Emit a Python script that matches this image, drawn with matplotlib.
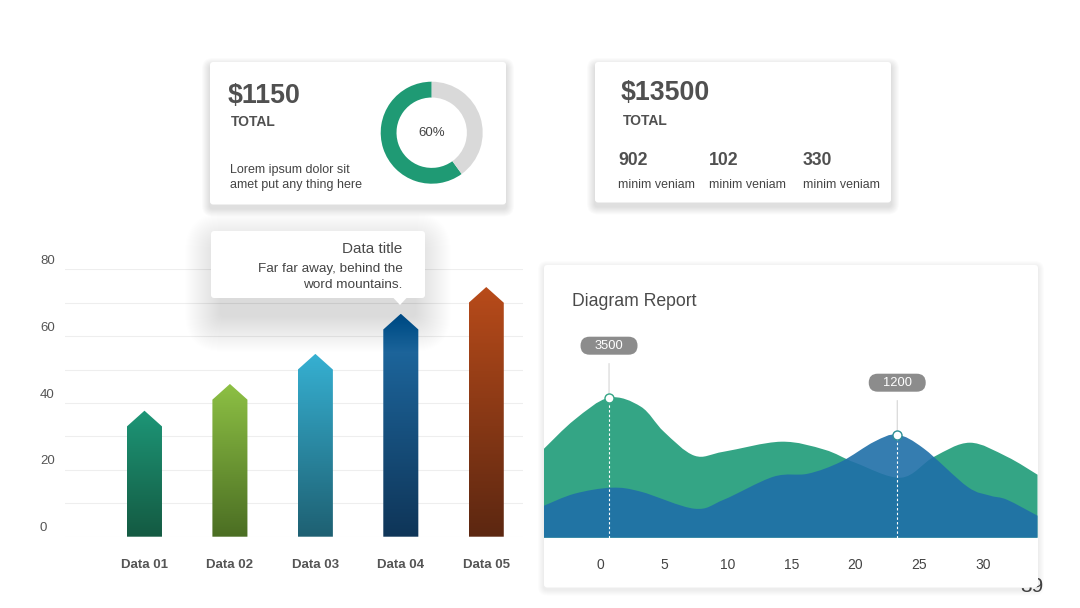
import numpy as np
import matplotlib
matplotlib.use('Agg')
import matplotlib.pyplot as plt
from matplotlib.patches import FancyBboxPatch, Polygon, PathPatch
from matplotlib.path import Path
from matplotlib.transforms import ScaledTranslation
from matplotlib.colors import to_rgb

plt.rcParams['font.family'] = ['Liberation Sans', 'DejaVu Sans']

# ---------------- data ----------------
bar_categories = ['Data 01', 'Data 02', 'Data 03', 'Data 04', 'Data 05']
bar_values = [33, 41, 50, 62, 70]
bar_top_colors = ['#1d9677', '#8dc044', '#36b0d2', '#1f6ea8', '#b84b1a']
bar_bottom_colors = ['#145a42', '#4b6e23', '#1e6072', '#0f3558', '#5c2711']
bar_yticks = [0, 20, 40, 60, 80]
bar_minor_yticks = [10, 30, 50, 70]

donut_values = [60, 40]
donut_colors = ['#1f9a74', '#d9d9d9']
donut_label = '60%'

card1_amount = '$1150'
card1_caption = 'TOTAL'
card1_text = ['Lorem ipsum dolor sit', 'amet put any thing here']
card2_amount = '$13500'
card2_caption = 'TOTAL'
card2_stats = ['902', '102', '330']
card2_stat_label = 'minim veniam'

tooltip_title = 'Data title'
tooltip_lines = ['Far far away, behind the', 'word mountains.']

area_title = 'Diagram Report'
green_x = [-4.4, -2.0, 0.7, 3.2, 5.0, 7.4, 9.7, 14.2, 17.6, 20.0, 23.6, 26.2, 29.0, 31.9, 34.3]
green_y = [89, 118, 140, 131, 106, 82, 86, 96, 88, 75, 60, 81, 95, 81, 63]
blue_x = [-4.4, -2.0, 0.9, 3.2, 7.4, 9.7, 13.6, 16.3, 18.9, 21.5, 23.3, 25.4, 28.8, 30.6, 31.9, 34.3]
blue_y = [32, 44, 50, 46, 29, 38, 61, 64, 76, 96, 103, 89, 51, 42, 38, 22]
area_xticks = [0, 5, 10, 15, 20, 25, 30]
callout_labels = ['3500', '1200']
callout_index = [2, 10]   # green point index, blue point index
green_color = '#34a585'
blue_color = '#1f6fa8'

page_number = '39'

# ---------------- figure ----------------
W, H = 1080, 608
fig = plt.figure(figsize=(W / 100, H / 100), dpi=100)
fig.patch.set_facecolor('white')


def fig_rect(x0, y0, x1, y1):
    """pixel box (y from top) -> figure fraction rect"""
    return [x0 / W, 1 - y1 / H, (x1 - x0) / W, (y1 - y0) / H]


bg = fig.add_axes([0, 0, 1, 1], zorder=0)
bg.set_xlim(0, W)
bg.set_ylim(H, 0)
bg.axis('off')


def card(ax, x0, y0, x1, y1, r=3, blur=8, dy=3, alpha=0.2, z=2, shrink=0):
    w, h = x1 - x0, y1 - y0
    for k in range(blur, 0, -1):
        ax.add_patch(FancyBboxPatch((x0 - k + shrink, y0 - k + dy), w + 2 * k - 2 * shrink, h + 2 * k,
                                    boxstyle=f'round,pad=0,rounding_size={r + k}',
                                    fc='black', ec='none', alpha=alpha / blur, zorder=z))
    ax.add_patch(FancyBboxPatch((x0, y0), w, h, boxstyle=f'round,pad=0,rounding_size={r}',
                                fc='white', ec='none', zorder=z + 0.1))


# page number (mostly hidden behind the card)
bg.text(1032, 592.5, page_number, ha='center', va='baseline', fontsize=15, color='#444444', zorder=1)

# cards
card(bg, 210, 62, 506, 204.5, blur=8, dy=4, alpha=0.12)
card(bg, 595, 62, 891, 202.5, blur=8, dy=4, alpha=0.12)
card(bg, 544, 265, 1038, 587.5, blur=6, dy=2, alpha=0.07)

tc = '#505050'
bg.text(228, 103, card1_amount, fontsize=19.3, fontweight='bold', color=tc, va='baseline', zorder=5)
bg.text(230.5, 126.5, card1_caption, fontsize=10, fontweight='bold', color=tc, va='baseline', zorder=5)
bg.text(230, 172.5, card1_text[0], fontsize=9, color='#444444', va='baseline', zorder=5)
bg.text(230, 188, card1_text[1], fontsize=9, color='#444444', va='baseline', zorder=5)

bg.text(621, 100, card2_amount, fontsize=19.3, fontweight='bold', color=tc, va='baseline', zorder=5)
bg.text(623, 125, card2_caption, fontsize=10, fontweight='bold', color=tc, va='baseline', zorder=5)
for sx, s in zip([618, 709, 803], card2_stats):
    bg.text(sx, 165, s, fontsize=12.7, fontweight='bold', color=tc, va='baseline', zorder=5)
    bg.text(sx, 187.5, card2_stat_label, fontsize=8.9, color='#444444', va='baseline', zorder=5)

bg.text(572.5, 306, area_title, fontsize=12.7, color='#4a4a4a', va='baseline', zorder=5)

# ---------------- donut ----------------
axd = fig.add_axes(fig_rect(380.7, 81.7, 482.7, 183.7), zorder=3)
axd.pie(donut_values, colors=donut_colors, startangle=90, counterclock=True,
        radius=1, wedgeprops=dict(width=0.31, edgecolor='none'))
axd.text(0, 0, donut_label, ha='center', va='center', fontsize=9.5, color='#444444')
axd.set_xlim(-1, 1)
axd.set_ylim(-1, 1)
axd.set_aspect('equal')
axd.axis('off')

# ---------------- bar chart ----------------
axb = fig.add_axes(fig_rect(65, 269.3, 523, 536.7), zorder=1)
axb.patch.set_alpha(0)
bar_w = 0.41
tip = 4.7
for i, (v, ct, cb) in enumerate(zip(bar_values, bar_top_colors, bar_bottom_colors)):
    c0, c1 = np.array(to_rgb(cb)), np.array(to_rgb(ct))
    t = np.linspace(0, 1, 256)[:, None, None]
    grad = c0[None, None, :] * (1 - t) + c1[None, None, :] * t
    im = axb.imshow(grad, origin='lower', extent=[i - bar_w / 2, i + bar_w / 2, 0, v + tip],
                    aspect='auto', interpolation='bilinear', zorder=2)
    poly = Polygon([(i - bar_w / 2, 0), (i + bar_w / 2, 0), (i + bar_w / 2, v),
                    (i, v + tip), (i - bar_w / 2, v)], closed=True,
                   transform=axb.transData, fc='none', ec='none')
    im.set_clip_path(poly)

axb.set_xlim(-0.93, 4.43)
axb.set_ylim(0, 80)
axb.set_aspect('auto')
axb.set_yticks(bar_yticks)
axb.set_yticks(bar_minor_yticks, minor=True)
axb.grid(True, which='both', axis='y', color='#eeeeee', lw=0.8)
axb.set_axisbelow(True)
axb.set_xticks(range(len(bar_categories)))
axb.set_xticklabels(bar_categories, fontweight='bold')
axb.tick_params(axis='x', length=0, pad=16, labelsize=9.5, labelcolor='#555555')
axb.tick_params(axis='y', which='both', length=0, pad=18, labelsize=9.5, labelcolor='#555555')
for s in axb.spines.values():
    s.set_visible(False)
for lab in axb.get_yticklabels():
    lab.set_horizontalalignment('left')
    lab.set_transform(lab.get_transform() + ScaledTranslation(0, 10 / 100, fig.dpi_scale_trans))

# ---------------- area chart ----------------
axa = fig.add_axes(fig_rect(544, 300, 1037.5, 537.7), zorder=3)
axa.patch.set_alpha(0)


def smooth_area_path(xs, ys):
    pts = np.column_stack([xs, ys]).astype(float)
    n = len(pts)
    verts = [(pts[0, 0], 0.0), tuple(pts[0])]
    codes = [Path.MOVETO, Path.LINETO]
    for i in range(n - 1):
        p0 = pts[max(i - 1, 0)]
        p1 = pts[i]
        p2 = pts[i + 1]
        p3 = pts[min(i + 2, n - 1)]
        c1 = p1 + (p2 - p0) / 6
        c2 = p2 - (p3 - p1) / 6
        verts += [tuple(c1), tuple(c2), tuple(p2)]
        codes += [Path.CURVE4] * 3
    verts += [(pts[-1, 0], 0.0), (pts[0, 0], 0.0)]
    codes += [Path.LINETO, Path.CLOSEPOLY]
    return Path(verts, codes)


axa.add_patch(PathPatch(smooth_area_path(green_x, green_y), fc=green_color, ec='none', zorder=1))
axa.add_patch(PathPatch(smooth_area_path(blue_x, blue_y), fc=blue_color, ec='none', alpha=0.9, zorder=2))

axa.set_xlim(-4.4, 34.3)
axa.set_ylim(0, 237.7)
axa.set_xticks(area_xticks)
axa.set_yticks([])
axa.tick_params(axis='x', length=0, pad=14.3, labelsize=10, labelcolor='#444444')
for s in axa.spines.values():
    s.set_visible(False)

callout_pts = [(green_x[callout_index[0]], green_y[callout_index[0]], green_color),
               (blue_x[callout_index[1]], blue_y[callout_index[1]], '#2d8f95')]
for (px, py, ec), lab in zip(callout_pts, callout_labels):
    axa.vlines(px, 0, py, colors='white', linestyles=(0, (2.2, 2)), lw=0.8, zorder=3)
    # pill in inch units anchored at the data point
    tr = fig.dpi_scale_trans + ScaledTranslation(px, py, axa.transData)
    axa.add_patch(FancyBboxPatch((-0.285, 0.43), 0.57, 0.18,
                                 boxstyle='round,pad=0,rounding_size=0.09',
                                 fc='#8c8c8c', ec='none', transform=tr, zorder=4, clip_on=False))
    axa.annotate(lab, xy=(px, py), xytext=(0, 52 * 0.72), textcoords='offset points',
                 ha='center', va='center', color='white', fontsize=9.3, zorder=5,
                 annotation_clip=False,
                 arrowprops=dict(arrowstyle='-', color='#cfcfcf', lw=0.7,
                                 shrinkA=6.5, shrinkB=3))
    axa.plot([px], [py], marker='o', ms=6.5, mfc='white', mec=ec, mew=1.0, zorder=6, clip_on=False)

# ---------------- tooltip overlay ----------------
top = fig.add_axes([0, 0, 1, 1], zorder=5)
top.set_xlim(0, W)
top.set_ylim(H, 0)
top.axis('off')
card(top, 211, 231, 425, 298, r=3, blur=36, dy=18, alpha=0.2, z=2, shrink=10)
top.add_patch(Polygon([(393, 297.5), (407, 297.5), (400, 305)], closed=True,
                      fc='white', ec='none', zorder=3))
top.text(402.5, 253, tooltip_title, ha='right', va='baseline', fontsize=11, color='#4a4a4a', zorder=4)
top.text(402.5, 272, tooltip_lines[0], ha='right', va='baseline', fontsize=9.7, color='#444444', zorder=4)
top.text(402.5, 288, tooltip_lines[1], ha='right', va='baseline', fontsize=9.7, color='#444444', zorder=4)

fig.savefig('out.png', dpi=100, facecolor='white')
